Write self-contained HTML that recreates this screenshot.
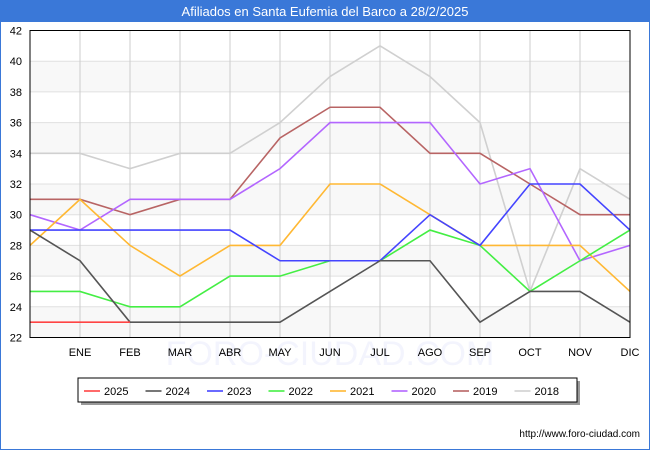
<!DOCTYPE html>
<html><head><meta charset="utf-8"><style>
body{margin:0;width:650px;height:450px;background:#fff;font-family:"Liberation Sans","DejaVu Sans",sans-serif;overflow:hidden}
</style></head><body>
<svg id="chart" width="650" height="450" xmlns="http://www.w3.org/2000/svg">
<rect x="0" y="0" width="650" height="450" fill="#fff" stroke="#3a78d8" stroke-width="2"/>
<text x="330" y="365" text-anchor="middle" font-size="34" fill="#f3f4fd">FORO-CIUDAD.COM</text>
<rect x="0" y="0" width="650" height="22" fill="#3a78d8"/>
<text x="325" y="16" text-anchor="middle" fill="#fff" font-size="13">Afiliados en Santa Eufemia del Barco a 28/2/2025</text>
<g id="plot"></g>
<text x="640" y="437" text-anchor="end" font-size="10" fill="#000">http://www.foro-ciudad.com</text>
</svg>
<script>
const months=["","ENE","FEB","MAR","ABR","MAY","JUN","JUL","AGO","SEP","OCT","NOV","DIC"];
const yTicks=[22,24,26,28,30,32,34,36,38,40,42];
const years=["2025","2024","2023","2022","2021","2020","2019","2018"];
const colors=["#ff4444","#555555","#4444ff","#44ee44","#ffb833","#b366ff","#b86464","#d0d0d0"];
const s2025=[23,23,23];
const s2024=[29,27,23,23,23,23,25,27,27,23,25,25,23];
const s2023=[29,29,29,29,29,27,27,27,30,28,32,32,29];
const s2022=[25,25,24,24,26,26,27,27,29,28,25,27,29];
const s2021=[28,31,28,26,28,28,32,32,30,28,28,28,25];
const s2020=[30,29,31,31,31,33,36,36,36,32,33,27,28];
const s2019=[31,31,30,31,31,35,37,37,34,34,32,30,30];
const s2018=[34,34,33,34,34,36,39,41,39,36,25,33,31];
const series=[s2025,s2024,s2023,s2022,s2021,s2020,s2019,s2018];
const NS="http://www.w3.org/2000/svg";
const L=30,R=630,T=30.5,B=337.5,ymin=22,ymax=42;
const x=i=>L+(R-L)*i/(months.length-1);
const y=v=>B-(v-ymin)/(ymax-ymin)*(B-T);
const g=document.getElementById('plot');
function mk(t,a){const e=document.createElementNS(NS,t);for(const k in a)e.setAttribute(k,a[k]);g.appendChild(e);return e;}
for(let i=0;i<yTicks.length-1;i++){
 if(i%2===0){const b=mk('rect',{x:L,y:y(yTicks[i+1]),width:R-L,height:y(yTicks[i])-y(yTicks[i+1]),fill:'#f8f8f8'});
 
 }
}
yTicks.forEach(v=>{
 const l=mk('line',{x1:L,x2:R,y1:y(v),y2:y(v),stroke:'#e0e0e0','stroke-width':1});
 
 
 const t=mk('text',{x:22,y:y(v)+4,'text-anchor':'end','font-size':11,fill:'#000'});t.textContent=v;
 
 
});
months.forEach((m,i)=>{
 if(i>0){const l=mk('line',{x1:x(i),x2:x(i),y1:T,y2:B,stroke:'#cccccc','stroke-width':1});
 
 }
 if(m){const t=mk('text',{x:x(i),y:356,'text-anchor':'middle','font-size':11,fill:'#000'});t.textContent=m;
 
 }
});
for(let k=series.length-1;k>=0;k--){
 const p=mk('polyline',{points:series[k].map((v,i)=>x(i)+','+y(v)).join(' '),fill:'none',stroke:colors[k],'stroke-width':1.6});
 
 
}
const ax=mk('rect',{x:L,y:T,width:R-L,height:B-T,fill:'none',stroke:'#000','stroke-width':1});


const sh=mk('rect',{x:81,y:381,width:499,height:24,fill:'#999'});


const lb=mk('rect',{x:78,y:378,width:499,height:24,fill:'#fff',stroke:'#000','stroke-width':1});


years.forEach((yr,k)=>{
 const lx=84+k*61.5;
 const l=mk('line',{x1:lx,x2:lx+16,y1:391,y2:391,stroke:colors[k],'stroke-width':1.6});
 
 
 const t=mk('text',{x:lx+20,y:395,'font-size':11,fill:'#000'});t.textContent=yr;
 
 
});
</script>
</body></html>
